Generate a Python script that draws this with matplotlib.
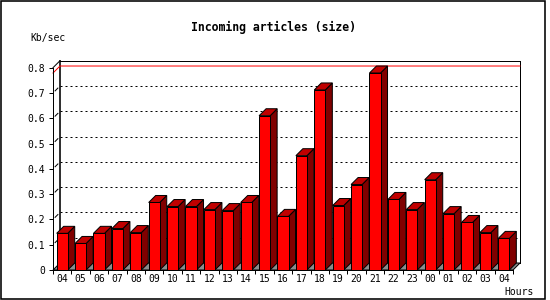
"""Incoming articles (size) - 3D bar chart per hour."""

import matplotlib

matplotlib.use("Agg")
import matplotlib.pyplot as plt
import numpy as np
from matplotlib.patches import Polygon, Rectangle

hours = ["04", "05", "06", "07", "08", "09", "10", "11", "12", "13", "14", "15", "16",
         "17", "18", "19", "20", "21", "22", "23", "00", "01", "02", "03", "04"]
kb_sec = [0.145, 0.105, 0.145, 0.164, 0.148, 0.267, 0.251, 0.251, 0.239, 0.235, 0.267,
          0.610, 0.212, 0.452, 0.712, 0.255, 0.338, 0.779, 0.279, 0.239, 0.357, 0.223,
          0.188, 0.148, 0.125]
yticks = [0, 0.1, 0.2, 0.3, 0.4, 0.5, 0.6, 0.7, 0.8]
ytick_labels = ["0", "0.1", "0.2", "0.3", "0.4", "0.5", "0.6", "0.7", "0.8"]

W, H = 550, 300
FRONT = "#ff0000"
TOP = "#c00000"
SIDE = "#800000"
FLOOR = "#8c8c8c"
PX = 0.72  # one pixel in points at 100 dpi
MONO = "DejaVu Sans Mono"

fig = plt.figure(figsize=(W / 100, H / 100), dpi=100)
fig.patch.set_facecolor("white")

# front plane of the plot: x 53..513 px, y 270 (0) .. 67.7 (0.8)
ax = fig.add_axes([53 / W, 30 / H, 460 / W, 202.3 / H])
n = len(hours)
ymax = 0.8
ax.set_xlim(0, n)
ax.set_ylim(0, ymax)
ax.set_facecolor("none")

# depth offsets (7 px) in data units
DX = 7 / (460 / n)
DY = 7 / (202.3 / ymax)

# back wall
ax.add_patch(Rectangle((DX, DY), n, ymax, facecolor="white", edgecolor="none", zorder=0))
ax.plot([DX, DX], [DY, ymax + DY], color="black", lw=1.6 * PX, zorder=1, clip_on=False)
ax.plot([n + DX, n + DX], [DY, ymax + DY], color="black", lw=PX, zorder=1, clip_on=False)
ax.plot([DX, n + DX], [ymax + DY, ymax + DY], color="black", lw=PX, zorder=1, clip_on=False)
ax.plot([0, DX], [ymax, ymax + DY], color="black", lw=PX, zorder=1, clip_on=False)

# dotted grid on the back wall, with small stubs between front and back
for v in yticks[1:-1]:
    ax.plot([DX, n + DX], [v + DY, v + DY], color="black", lw=PX,
            linestyle=(0, (2, 3)), zorder=1, clip_on=False)
    ax.plot([0.3 * DX, 0.7 * DX], [v + 0.3 * DY, v + 0.7 * DY], color="black",
            lw=PX, zorder=1, clip_on=False)

# max value line
vmax = max(kb_sec)
ax.plot([0, DX, n + DX], [vmax, vmax + DY, vmax + DY], color="red", lw=PX,
        zorder=1.5, clip_on=False)

# floor
ax.add_patch(Polygon([(0, 0), (n, 0), (n + DX, DY), (DX, DY)], closed=True,
                     facecolor=FLOOR, edgecolor="black", lw=PX, zorder=2, clip_on=False))

# bars
bw = 0.6
for i, v in enumerate(kb_sec):
    x0 = i + 0.2
    x1 = x0 + bw
    ax.add_patch(Polygon([(x1, 0), (x1 + DX, DY), (x1 + DX, v + DY), (x1, v)],
                         closed=True, facecolor=SIDE, edgecolor="black", lw=PX,
                         zorder=3, clip_on=False))
    ax.add_patch(Polygon([(x0, v), (x1, v), (x1 + DX, v + DY), (x0 + DX, v + DY)],
                         closed=True, facecolor=TOP, edgecolor="black", lw=PX,
                         zorder=3, clip_on=False))
    ax.bar(x0, v, width=bw, align="edge", color=FRONT, edgecolor="black",
           linewidth=PX, zorder=4, clip_on=False)

# axes
for side in ("top", "right"):
    ax.spines[side].set_visible(False)
for side in ("left", "bottom"):
    ax.spines[side].set_linewidth(PX)
    ax.spines[side].set_zorder(5)

ax.set_yticks(yticks, ytick_labels)
ax.set_xticks(np.arange(n + 1), [""] * (n + 1))
ax.set_xticks(np.arange(n) + 0.5, hours, minor=True)
ax.tick_params(axis="y", length=4 * PX, width=PX, pad=3.5 * PX, labelsize=7)
ax.tick_params(axis="x", which="major", length=4 * PX, width=PX)
ax.tick_params(axis="x", which="minor", length=0, pad=4 * PX, labelsize=7)
for lab in ax.get_yticklabels() + ax.get_xticklabels(minor=True):
    lab.set_family(MONO)

fig.text(273.5 / W, 1 - 27 / H, "Incoming articles (size)", ha="center", va="center",
         fontsize=8.3, fontweight="bold", family=MONO)
fig.text(30 / W, 1 - 37.5 / H, "Kb/sec", ha="left", va="center", fontsize=7, family=MONO)
fig.text(504 / W, 1 - 292 / H, "Hours", ha="left", va="center", fontsize=7, family=MONO)

# outer frame
fig.patches.append(Rectangle((0.5 / W, 1.5 / H), 544 / W, 298 / H, transform=fig.transFigure,
                             fill=False, edgecolor="black", lw=1.6 * PX))

fig.savefig("out.png", dpi=100)
